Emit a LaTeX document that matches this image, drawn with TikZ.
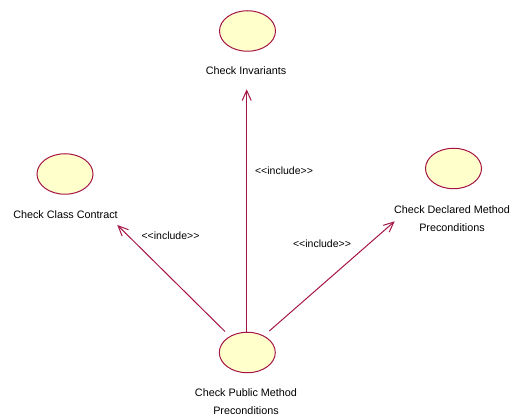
\documentclass[tikz,border=0pt]{standalone}
\usepackage{fontspec}
\setmainfont{Liberation Sans}
\usetikzlibrary{arrows.meta,calc,shapes.geometric}
\definecolor{uml}{RGB}{165,20,70}
\definecolor{ucfill}{RGB}{255,255,204}
\tikzset{
  usecase/.style={ellipse, draw=uml, fill=ucfill, line width=1pt, minimum width=56pt, minimum height=40.5pt, inner sep=0pt},
  uclabel/.style={align=center, font=\fontsize{10.8}{18}\selectfont, inner sep=0pt, text=black},
  inclabel/.style={font=\fontsize{10.5}{12}\selectfont, inner sep=0pt, text=black},
  incl/.style={draw=uml, line width=1pt, -{Straight Barb[length=10pt,width=9pt,line width=1pt]}},
}
\newcommand{\incltext}{{<}{<}include{>}{>}}
\begin{document}
\begin{tikzpicture}[x=1pt,y=-1pt]
\useasboundingbox (0,0) rectangle (514,419);
% use cases
\node[usecase] (inv) at (247.5,31) {};
\node[uclabel] (invL) at (246,71) {Check Invariants};
\node[usecase] (ccc) at (65,174) {};
\node[uclabel] (cccL) at (65.5,215) {Check Class Contract};
\node[usecase] (cdm) at (453.5,168.5) {};
\node[uclabel] (cdmL) at (452,219) {Check Declared Method\\Preconditions};
\node[usecase] (cpm) at (247.3,352.5) {};
\node[uclabel] (cpmL) at (246,402) {Check Public Method\\Preconditions};
% connector end points
\coordinate (sL) at (225,331.5);
\coordinate (sM) at (246.7,332);
\coordinate (sR) at (269.3,331);
\coordinate (tL) at (117.3,225);
\coordinate (tM) at (246.7,89.3);
\coordinate (tR) at (394.7,221.3);
\draw[incl] (sL) -- (tL);
\draw[incl] (sM) -- (tM);
\draw[incl] (sR) -- (tR);
% labels
\node[inclabel] (iL) at (170.5,236) {\incltext};
\node[inclabel] (iM) at (284,171) {\incltext};
\node[inclabel] (iR) at (322,244) {\incltext};
\end{tikzpicture}
\end{document}
